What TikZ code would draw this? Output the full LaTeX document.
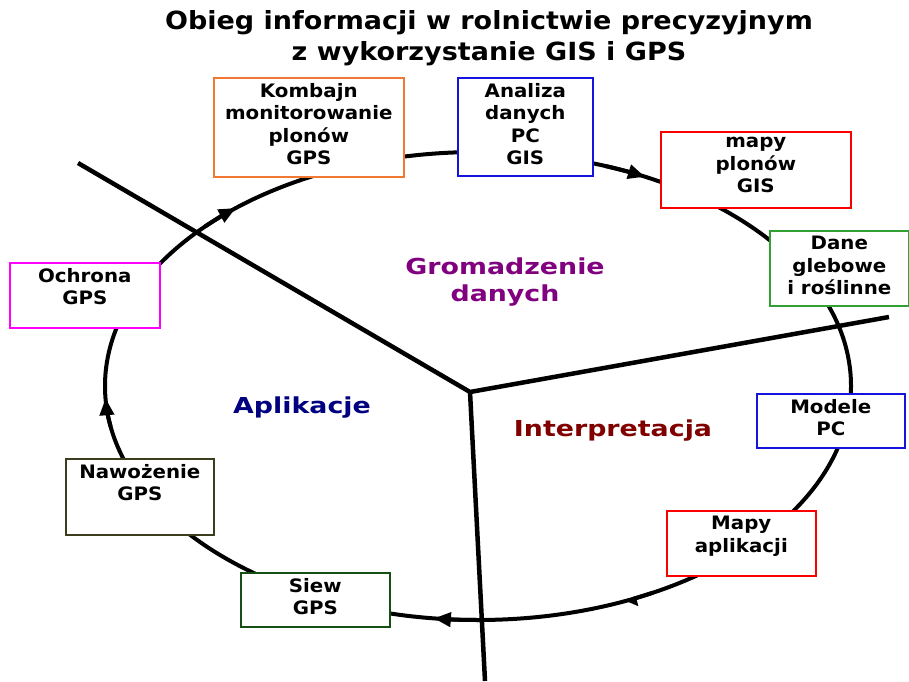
\documentclass[tikz,border=0pt]{standalone}
\usepackage{fontspec}
\usetikzlibrary{arrows.meta,calc}
\newfontfamily\tfont{DejaVu Sans}[FakeStretch=1.08]
\newfontfamily\bfont{DejaVu Sans}[FakeStretch=1.07]
\newfontfamily\lfont{DejaVu Sans}[FakeStretch=1.22]
\definecolor{cOrange}{RGB}{240,120,50}
\definecolor{cBlue}{RGB}{20,20,220}
\definecolor{cRed}{RGB}{250,0,0}
\definecolor{cGreen}{RGB}{50,160,50}
\definecolor{cDGreen}{RGB}{20,80,20}
\definecolor{cOlive}{RGB}{60,60,30}
\definecolor{cMag}{RGB}{255,0,255}
\definecolor{cPurple}{RGB}{128,0,128}
\definecolor{cNavy}{RGB}{0,0,128}
\definecolor{cMaroon}{RGB}{128,0,0}
\tikzset{
  boxst/.style={draw, fill=white, line width=1.6pt, anchor=north west, inner sep=0pt},
  boxtxt/.style={anchor=north, inner sep=0pt, align=center, font=\bfont\bfseries\fontsize{18.5}{22.5}\selectfont},
  ring/.style={line width=4pt},
  sep/.style={line width=4.5pt},
  arrowst/.style={line width=4pt, -{Triangle[length=17pt,width=14pt]}},
  lbl/.style={font=\lfont\bfseries\fontsize{22}{27}\selectfont, align=center},
}
\begin{document}
\begin{tikzpicture}[x=1pt,y=1pt]
\useasboundingbox (0,0) rectangle (909,681);
\fill[white] (0,0) rectangle (909,681);
% title
\node[font=\tfont\bfseries\fontsize{25}{31}\selectfont, align=center] (title) at (489,643)
  {Obieg informacji w rolnictwie precyzyjnym\\z wykorzystanie GIS i GPS};
% separating lines
\coordinate (hub) at (470,289);
\coordinate (endA) at (78,518);
\coordinate (endB) at (889,364);
\coordinate (endC) at (485,0);
\draw[sep] (endA) -- (hub) -- (endB);
\draw[sep] (hub) -- (endC);
% cycle
\coordinate (c) at (478,295);
\draw[ring] (c) ellipse [x radius=373, y radius=234];
% arrowheads (clockwise)
\draw[arrowst] ($(c)+(70:373 and 234)$) arc[start angle=70, end angle=63.4, x radius=373, y radius=234];
\draw[arrowst] ($(c)+(137:373 and 234)$) arc[start angle=137, end angle=130.5, x radius=373, y radius=234];
\draw[arrowst] ($(c)+(190:373 and 234)$) arc[start angle=190, end angle=183, x radius=373, y radius=234];
\draw[arrowst] ($(c)+(270:373 and 234)$) arc[start angle=270, end angle=263.2, x radius=373, y radius=234];
\draw[line width=4pt, -{Triangle[harpoon,length=11pt,width=16pt]}] ($(c)+(298:373 and 234)$) arc[start angle=298, end angle=293, x radius=373, y radius=234];
% labels
\node[lbl, text=cPurple] (gro) at (505,399) {Gromadzenie\\danych};
\node[lbl, text=cNavy] (apl) at (302,273) {Aplikacje};
\node[lbl, text=cMaroon] (int) at (613,250) {Interpretacja};
% boxes
\node[boxst, draw=cOrange, minimum width=190, minimum height=99] (b1) at (213,604) {};
\node[boxtxt] (t1) at ([yshift=-6]b1.north) {Kombajn\\monitorowanie\\plonów\\GPS};
\node[boxst, draw=cBlue, minimum width=135, minimum height=98] (b2) at (457,604) {};
\node[boxtxt] (t2) at ([yshift=-6]b2.north) {Analiza\\danych\\PC\\GIS};
\node[boxst, draw=cRed, minimum width=190, minimum height=76] (b3) at (660,550) {};
\node[boxtxt] (t3) at ([yshift=-6]b3.north) {mapy\\plonów\\GIS};
\node[boxst, draw=cGreen, minimum width=139, minimum height=75] (b4) at (769,451) {};
\node[boxtxt] (t4) at ([yshift=-6]b4.north) {Dane\\glebowe\\i roślinne};
\node[boxst, draw=cBlue, minimum width=148, minimum height=54] (b5) at (756,288) {};
\node[boxtxt] (t5) at ([yshift=-6]b5.north) {Modele\\PC};
\node[boxst, draw=cRed, minimum width=149, minimum height=65] (b6) at (666,171) {};
\node[boxtxt] (t6) at ([yshift=-6]b6.north) {Mapy\\aplikacji};
\node[boxst, draw=cDGreen, minimum width=149, minimum height=54] (b7) at (240,109) {};
\node[boxtxt] (t7) at ([yshift=-6]b7.north) {Siew\\GPS};
\node[boxst, draw=cOlive, minimum width=148, minimum height=76] (b8) at (65,223) {};
\node[boxtxt] (t8) at ([yshift=-6]b8.north) {Nawożenie\\GPS};
\node[boxst, draw=cMag, minimum width=150, minimum height=65] (b9) at (9,419) {};
\node[boxtxt] (t9) at ([yshift=-6]b9.north) {Ochrona\\GPS};
\end{tikzpicture}
\end{document}
